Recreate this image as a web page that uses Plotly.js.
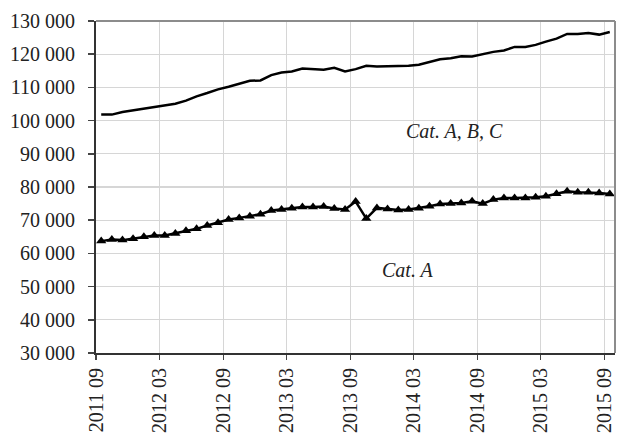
<!DOCTYPE html>
<html>
<head>
<meta charset="utf-8">
<script src="https://cdn.plot.ly/plotly-3.0.1.min.js"></script>
<style>html,body{margin:0;padding:0;background:#fff;}#chart{width:617px;height:434px;}</style>
</head>
<body>
<div id="chart"></div>
<script>
const months = ["2011-09","2011-10","2011-11","2011-12",
  "2012-01","2012-02","2012-03","2012-04","2012-05","2012-06","2012-07","2012-08","2012-09","2012-10","2012-11","2012-12",
  "2013-01","2013-02","2013-03","2013-04","2013-05","2013-06","2013-07","2013-08","2013-09","2013-10","2013-11","2013-12",
  "2014-01","2014-02","2014-03","2014-04","2014-05","2014-06","2014-07","2014-08","2014-09","2014-10","2014-11","2014-12",
  "2015-01","2015-02","2015-03","2015-04","2015-05","2015-06","2015-07","2015-08","2015-09"];

const catABC = [101800,101800,102600,103100,103600,104100,104700,105100,106000,107300,108300,109400,110200,111100,112000,112100,113700,114500,114800,115700,115500,115300,115900,114800,115500,116500,116300,116300,116400,116500,116800,117700,118500,118800,119400,119300,120100,120700,121100,122200,122200,122800,123800,124700,126100,126100,126400,125900,126700];

const catA = [63700,64200,64000,64400,65000,65400,65400,66000,66800,67400,68400,69200,70200,70700,71200,71800,72900,73200,73600,74000,74000,74100,73500,73200,75600,
  70500,73700,73400,73100,73200,73600,74200,74900,75000,75200,75700,75000,76200,76700,76700,76700,76900,77200,78000,78700,78400,78400,78200,77900];

const labelABC = "Cat. A, B, C";
const labelA = "Cat. A";

const font = "'Liberation Serif', 'DejaVu Serif', serif";

const traces = [
  {x: months, y: catABC, type: "scatter", mode: "lines", xperiod: "M1", xperiodalignment: "middle",
   line: {color: "#000", width: 2.5}, hoverinfo: "skip", showlegend: false},
  {x: months, y: catA, type: "scatter", mode: "lines+markers", xperiod: "M1", xperiodalignment: "middle",
   line: {color: "#000", width: 2.5}, marker: {symbol: "triangle-up", size: 9, color: "#000"},
   hoverinfo: "skip", showlegend: false}
];

const layout = {
  width: 617, height: 434,
  margin: {l: 96, r: 2, t: 21, b: 81},
  paper_bgcolor: "#fff", plot_bgcolor: "#fff",
  separators: ", ",
  font: {family: font, size: 20, color: "#222"},
  xaxis: {
    type: "date", range: ["2011-09-01", "2015-10-01"],
    tick0: "2011-09-01", dtick: "M6", tickformat: "%Y %m", tickangle: -90,
    ticks: "outside", ticklen: 5, tickwidth: 1.5, tickcolor: "#444",
    showgrid: true, gridcolor: "#d6d6d6", gridwidth: 1.3,
    showline: true, linecolor: "#333", linewidth: 2,
    zeroline: false, automargin: false, fixedrange: true,
    tickfont: {family: font, size: 20, color: "#222"}
  },
  yaxis: {
    range: [30000, 130000], dtick: 10000, tickformat: ",d",
    ticks: "outside", ticklen: 6, tickwidth: 1.5, tickcolor: "#444",
    ticklabelstandoff: 9,
    showgrid: true, gridcolor: "#d6d6d6", gridwidth: 1.3,
    showline: true, linecolor: "#333", linewidth: 2,
    zeroline: false, automargin: false, fixedrange: true,
    tickfont: {family: font, size: 20, color: "#222"}
  },
  shapes: [
    {type: "line", xref: "paper", yref: "paper", x0: 0, x1: 1, y0: 1, y1: 1, line: {color: "#8c8c8c", width: 2}},
    {type: "line", xref: "paper", yref: "paper", x0: 1, x1: 1, y0: 0, y1: 1, line: {color: "#8c8c8c", width: 2}}
  ],
  annotations: [
    {text: labelABC, xref: "paper", yref: "paper", x: 0.69, y: 0.669, xanchor: "center", yanchor: "middle",
     showarrow: false, font: {family: font, size: 20, color: "#222", style: "italic"}},
    {text: labelA, xref: "paper", yref: "paper", x: 0.601, y: 0.25, xanchor: "center", yanchor: "middle",
     showarrow: false, font: {family: font, size: 20, color: "#222", style: "italic"}}
  ]
};

Plotly.newPlot("chart", traces, layout, {staticPlot: true, displayModeBar: false});
</script>
</body>
</html>
